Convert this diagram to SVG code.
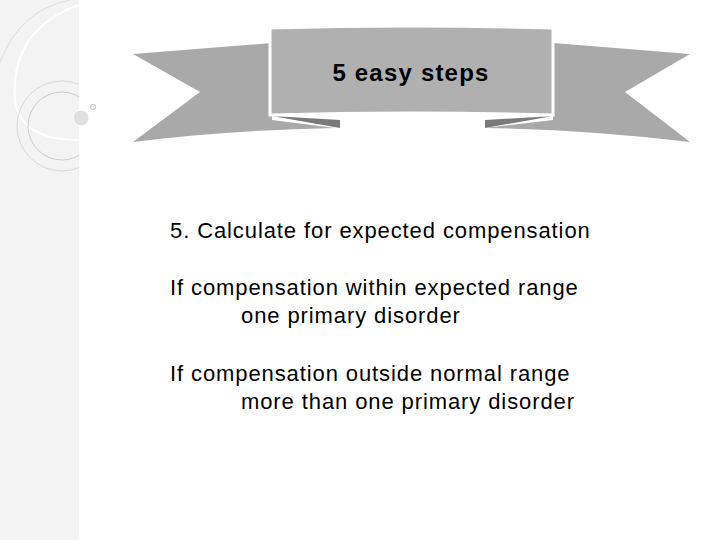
<svg xmlns="http://www.w3.org/2000/svg" width="720" height="540" viewBox="0 0 720 540">
<style>
.t{font-family:"Liberation Sans",Arial,sans-serif;font-size:22px;letter-spacing:0.9px;fill:#000}
</style>
<defs><clipPath id="c"><rect x="0" y="0" width="79" height="540"/></clipPath></defs>
<rect width="720" height="540" fill="#fff"/>
<g id="decor">
<rect x="0" y="0" width="79" height="540" fill="#f3f3f3"/>
<g clip-path="url(#c)">
<path d="M0,62 Q20,10 70,0" fill="none" stroke="#ddd"/>
<path d="M79,5 Q10,30 15,100 Q20,140 79,140" fill="none" stroke="#fff" stroke-width="2"/>
<circle cx="62" cy="126" r="34" fill="none" stroke="#ccc"/>
<circle cx="62" cy="126" r="45" fill="none" stroke="#d8d8d8"/>
</g>
<circle cx="81" cy="118" r="8" fill="#e0e0e0" stroke="#fff"/>
<circle cx="93" cy="107" r="2.5" fill="none" stroke="#bbb"/>
</g>
<g id="banner">
<path d="M133,54 L272,43 L272,120 L335,128 Q230,130 133,142 L200,92 Z" fill="#a9a9a9"/>
<path d="M690,54 L553,43 L553,120 L485,128 Q590,130 690,142 L625,92 Z" fill="#a9a9a9"/>
<path d="M272,116 L340,120 L340,128 Z" fill="#7a7a7a"/>
<path d="M553,116 L485,120 L485,128 Z" fill="#7a7a7a"/>
<path d="M270,28 Q410,24 553,28 L553,115 Q410,111 270,115 Z" fill="#b0b0b0" stroke="#fff" stroke-width="3"/>
<text x="411" y="81" text-anchor="middle" style="font-family:'Liberation Sans',Arial,sans-serif;font-size:24px;letter-spacing:1.2px;font-weight:bold">5 easy steps</text>
</g>
<g id="body">
<text x="170" y="238" class="t">5. Calculate for expected compensation</text>
<text x="170" y="295" class="t">If compensation within expected range</text>
<text x="241" y="323" class="t">one primary disorder</text>
<text x="170" y="381" class="t">If compensation outside normal range</text>
<text x="241" y="409" class="t">more than one primary disorder</text>
</g>
</svg>
